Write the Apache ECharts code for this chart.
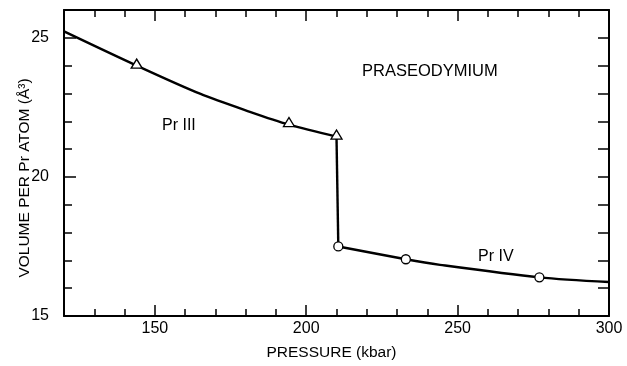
<!DOCTYPE html>
<html>
<head>
<meta charset="utf-8">
<script src="https://cdn.jsdelivr.net/npm/echarts@6/dist/echarts.min.js"></script>
<style>html,body{margin:0;padding:0;background:#fff}#c{width:627px;height:366px}</style>
</head>
<body>
<div id="c"></div>
<script>
// Pr III branch (pressure kbar, volume A^3)
const prIIIcurve = [[120, 25.23], [144, 24.0], [164.9, 22.99], [181.4, 22.34], [194.3, 21.88], [210, 21.45]];
const prIIIpoints = [[144, 24.0], [194.3, 21.9], [210, 21.45]];
const transition = [[210, 21.45], [210.6, 17.5]];
const prIVcurve = [[210.6, 17.5], [232.9, 17.04], [244.2, 16.84], [277, 16.39], [300, 16.22]];
const prIVpoints = [[210.6, 17.5], [232.9, 17.04], [277, 16.39]];
const xLabels = [150, 200, 250, 300];
const yLabels = [15, 20, 25];
const xMajor = [150, 200, 250];
const yMajor = [20, 25];

const FONT = 'Liberation Sans';
const chart = echarts.init(document.getElementById('c'));
const lineBlack = {color: '#000', width: 2};
function xAx(pos, len, custom, labels) {
  const a = {
    type: 'value', min: 120, max: 300, interval: 10, position: pos,
    splitLine: {show: false},
    axisLine: {show: !custom, lineStyle: lineBlack},
    axisTick: {show: true, inside: true, length: len, lineStyle: {color: '#000', width: 1.5}},
    axisLabel: {show: !!labels, color: '#000', fontFamily: FONT, fontSize: 16, margin: 5,
      formatter: v => xLabels.includes(v) ? String(v) : ''}
  };
  if (custom) a.axisTick.customValues = custom;
  if (labels) { a.name = 'PRESSURE (kbar)'; a.nameLocation = 'middle'; a.nameGap = 29;
    a.nameTextStyle = {color: '#000', fontFamily: FONT, fontSize: 15.5, padding: [0, 10, 0, 0]}; }
  return a;
}
function yAx(pos, len, custom, labels) {
  const a = {
    type: 'value', min: 15, max: 26, interval: 1, position: pos,
    splitLine: {show: false},
    axisLine: {show: !custom, lineStyle: lineBlack},
    axisTick: {show: true, inside: true, length: len, lineStyle: {color: '#000', width: 1.5}},
    axisLabel: {show: !!labels, color: '#000', fontFamily: FONT, fontSize: 16, margin: 15,
      formatter: v => yLabels.includes(v) ? String(v) : ''}
  };
  if (custom) a.axisTick.customValues = custom;
  return a;
}
chart.setOption({
  animation: false,
  backgroundColor: '#fff',
  grid: {left: 64, right: 18, top: 10, bottom: 46},
  xAxis: [xAx('bottom', 7, null, true), xAx('bottom', 11, xMajor, false), xAx('top', 7, null, false), xAx('top', 11, xMajor, false)],
  yAxis: [yAx('left', 8, null, true), yAx('left', 12, yMajor, false), yAx('right', 11, null, false)],
  series: [
    {type: 'line', data: prIIIcurve, smooth: 0.3, showSymbol: false, lineStyle: {color: '#000', width: 2.4}, z: 2},
    {type: 'line', data: transition, showSymbol: false, lineStyle: {color: '#000', width: 2.4}, z: 2},
    {type: 'line', data: prIVcurve, smooth: 0.3, showSymbol: false, lineStyle: {color: '#000', width: 2.4}, z: 2},
    {type: 'scatter', data: prIIIpoints, symbol: 'triangle', symbolSize: [11, 9], symbolOffset: [0, -2],
      itemStyle: {color: '#fff', borderColor: '#000', borderWidth: 1.3, opacity: 1}, z: 3},
    {type: 'scatter', data: prIVpoints, symbol: 'circle', symbolSize: 9,
      itemStyle: {color: '#fff', borderColor: '#000', borderWidth: 1.3, opacity: 1}, z: 3}
  ],
  graphic: [
    {type: 'text', left: 362, top: 63, style: {text: 'PRASEODYMIUM', font: '16.5px ' + FONT, fill: '#000'}},
    {type: 'text', left: 162, top: 118, style: {text: 'Pr III', font: '16px ' + FONT, fill: '#000'}},
    {type: 'text', left: 478, top: 249, style: {text: 'Pr IV', font: '16px ' + FONT, fill: '#000'}},
    {type: 'text', x: 25, y: 178, rotation: Math.PI / 2,
      style: {text: 'VOLUME PER Pr ATOM (Å³)', font: '15.5px ' + FONT, fill: '#000', align: 'center', verticalAlign: 'middle'}}
  ]
});
</script>
</body>
</html>
